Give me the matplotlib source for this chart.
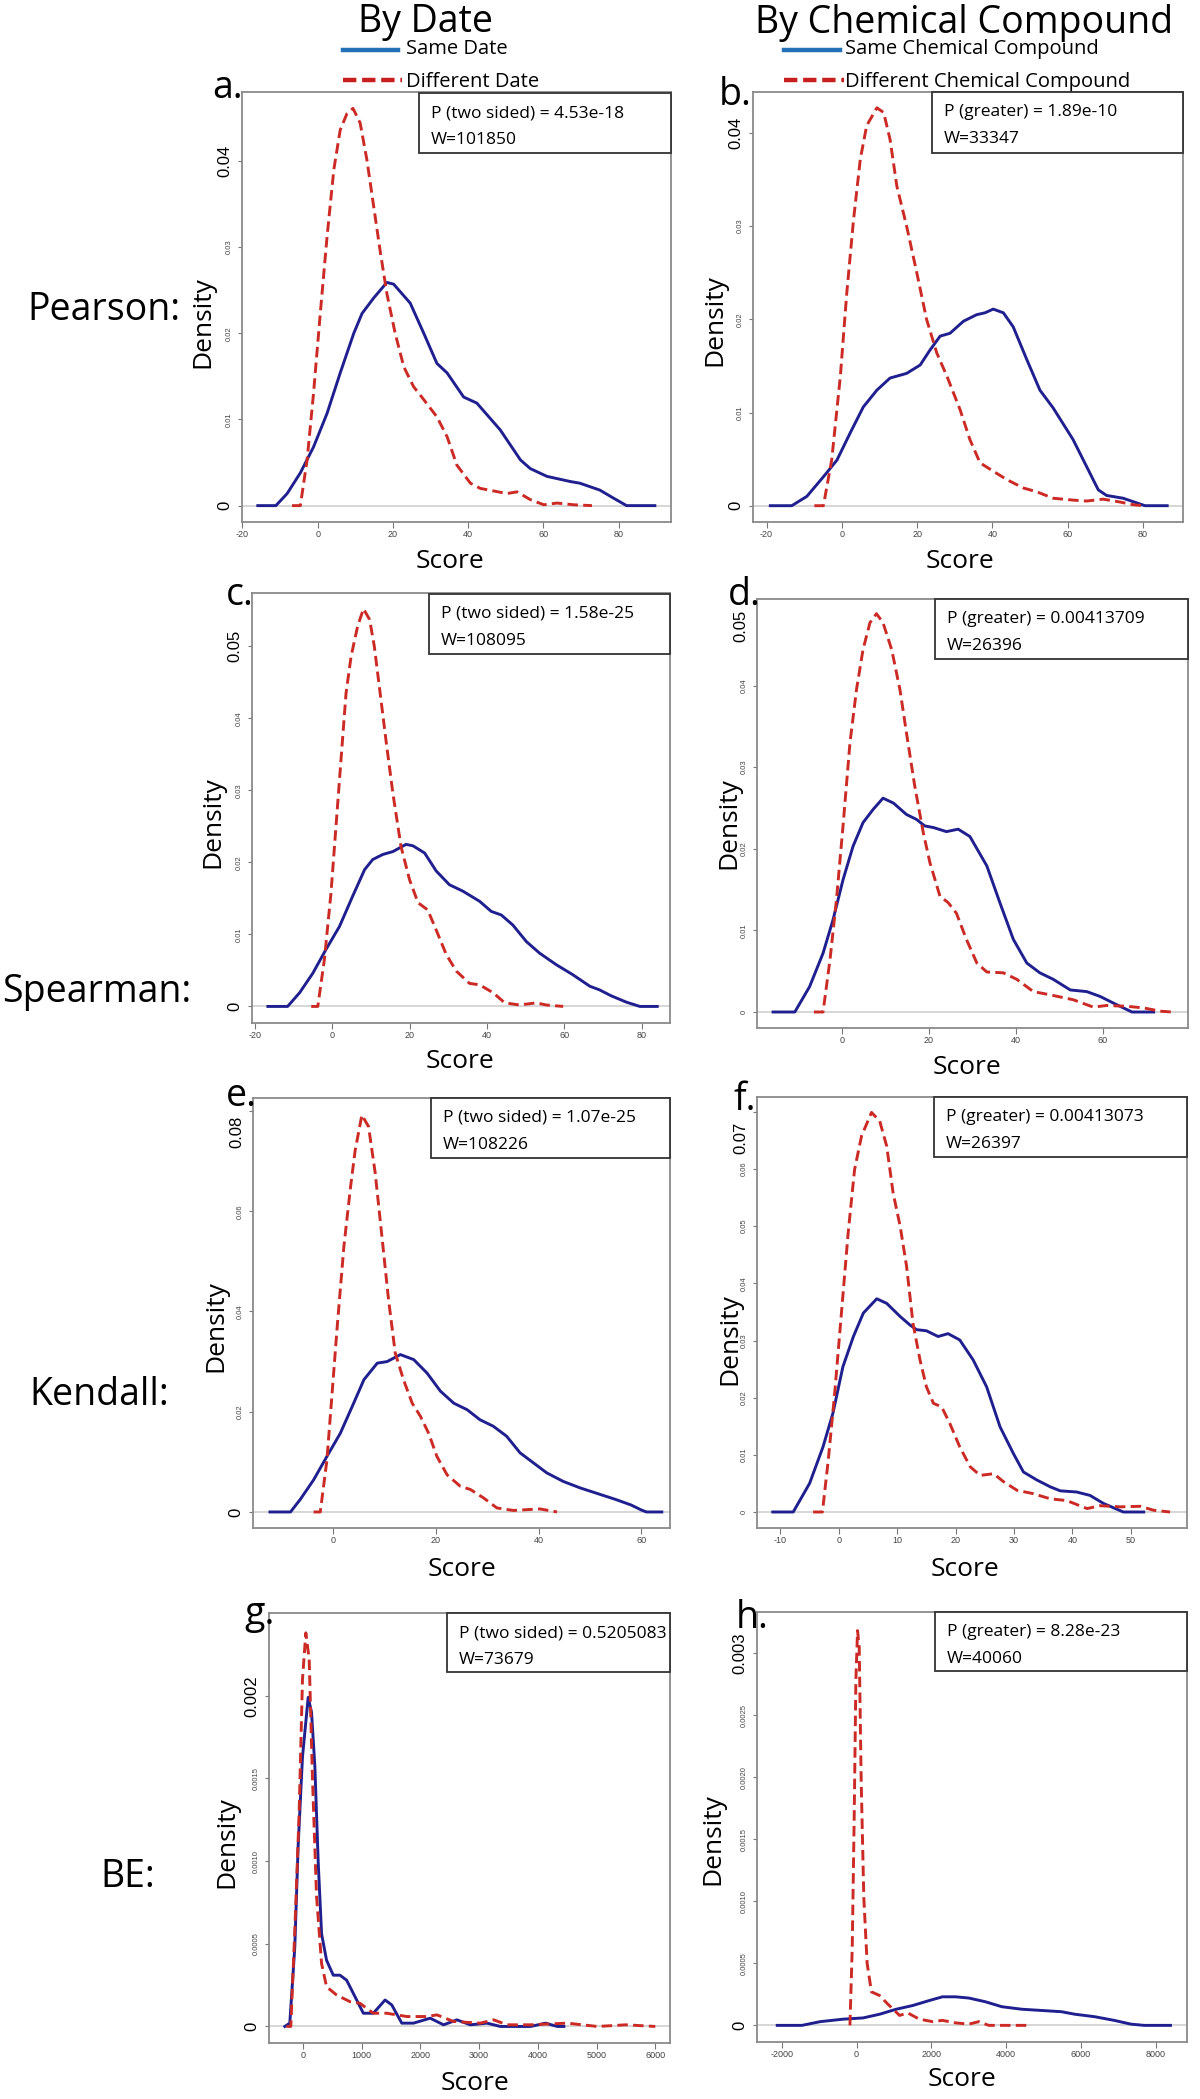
import matplotlib
matplotlib.use("Agg")
import matplotlib.pyplot as plt
from matplotlib.lines import Line2D
from matplotlib.patches import Rectangle

plt.rcParams['font.family'] = ['Open Sans', 'DejaVu Sans']

W, H = 1200, 2099

# ---- data (score, density) ----
# a. Pearson, by date
a_same_x = [-15.9, -11.1, -8.1, -4.6, -1.1, 2.5, 6.0, 9.6, 11.8, 14.9, 18.4, 20.2, 24.6, 28.2, 31.7, 34.4,
            38.8, 42.3, 48.5, 53.9, 56.5, 60.9, 67.1, 69.7, 75.0, 78.5, 82.1, 89.6]
a_same_y = [0, 0, 0.0014, 0.0038, 0.0068, 0.0107, 0.0154, 0.0200, 0.0223, 0.0241, 0.0259, 0.0257, 0.0235,
            0.0200, 0.0165, 0.0154, 0.0126, 0.0119, 0.0088, 0.0053, 0.0043, 0.0034, 0.0028, 0.0026, 0.0018,
            0.0009, 0, 0]
a_diff_x = [-6.8, -4.6, -2.8, -1.1, 0.7, 2.5, 4.3, 6.0, 7.8, 9.4, 11.3, 13.1, 14.9, 16.7, 18.4, 20.6, 22.9,
            25.5, 28.2, 31.7, 34.4, 37.0, 40.6, 43.2, 46.8, 50.3, 53.0, 56.5, 60.1, 63.6, 68.0, 72.9]
a_diff_y = [0, 0, 0.0053, 0.0130, 0.0223, 0.0312, 0.0390, 0.0436, 0.0455, 0.0461, 0.0444, 0.0401, 0.0347,
            0.0293, 0.0246, 0.0200, 0.0161, 0.0138, 0.0123, 0.0103, 0.0080, 0.0047, 0.0026, 0.0020, 0.0017,
            0.0014, 0.0016, 0.0007, 0.0001, 0.0003, 0.0001, 0]

# b. Pearson, by chemical compound
b_same_x = [-19.0, -13.3, -9.3, -4.9, -1.3, 2.2, 5.7, 9.3, 12.8, 17.2, 20.8, 23.4, 26.1, 28.7, 32.3, 35.8,
            38.0, 40.2, 42.9, 45.5, 49.1, 52.6, 56.1, 61.4, 65.0, 68.1, 70.3, 74.7, 80.5, 86.4]
b_same_y = [0, 0, 0.0010, 0.0031, 0.0049, 0.0078, 0.0106, 0.0124, 0.0137, 0.0142, 0.0151, 0.0167, 0.0182,
            0.0185, 0.0198, 0.0205, 0.0207, 0.0211, 0.0207, 0.0192, 0.0157, 0.0124, 0.0105, 0.0071, 0.0042,
            0.0017, 0.0011, 0.0008, 0, 0]
b_diff_x = [-7.3, -4.9, -2.7, -0.4, 1.3, 3.1, 4.9, 6.6, 9.3, 11.1, 12.8, 14.6, 17.2, 19.9, 22.5, 25.2, 27.9,
            31.4, 34.0, 36.7, 40.2, 43.8, 48.2, 51.7, 56.1, 61.4, 65.0, 69.4, 73.8, 77.4, 80.0]
b_diff_y = [0, 0, 0.0049, 0.0139, 0.0228, 0.0307, 0.0372, 0.0408, 0.0427, 0.0422, 0.0393, 0.0343, 0.0300,
            0.0250, 0.0200, 0.0164, 0.0139, 0.0103, 0.0071, 0.0046, 0.0037, 0.0028, 0.0019, 0.0015, 0.0008,
            0.0006, 0.0005, 0.0007, 0.0004, 0.0001, 0]

# c. Spearman, by date
c_same_x = [-16.6, -11.5, -8.4, -5.0, -1.6, 1.9, 5.3, 8.4, 10.5, 13.1, 15.7, 19.1, 20.9, 23.9, 26.9, 30.3,
            33.8, 38.1, 41.1, 43.7, 46.7, 50.2, 53.6, 57.9, 62.2, 66.6, 69.1, 72.0, 76.0, 79.5, 84.0]
c_same_y = [0, 0, 0.0019, 0.0046, 0.0079, 0.0111, 0.0153, 0.0190, 0.0204, 0.0211, 0.0215, 0.0225, 0.0223,
            0.0213, 0.0188, 0.0169, 0.0160, 0.0146, 0.0132, 0.0127, 0.0113, 0.0090, 0.0074, 0.0058, 0.0044,
            0.0028, 0.0023, 0.0015, 0.0006, 0, 0]
c_diff_x = [-5.4, -3.7, -2.0, -0.3, 1.0, 2.3, 3.6, 4.9, 6.6, 8.1, 9.7, 10.9, 12.2, 14.0, 15.7, 17.8, 20.0,
            22.2, 24.7, 26.9, 29.5, 32.1, 35.5, 38.1, 41.6, 44.6, 48.4, 52.8, 55.3, 59.7]
c_diff_y = [0, 0, 0.0065, 0.0157, 0.0250, 0.0343, 0.0435, 0.0486, 0.0528, 0.0552, 0.0537, 0.0500, 0.0444,
            0.0366, 0.0296, 0.0222, 0.0176, 0.0144, 0.0134, 0.0106, 0.0072, 0.0049, 0.0032, 0.0030, 0.0019,
            0.0005, 0.0002, 0.0005, 0.0002, 0]

# d. Spearman, by chemical compound
d_same_x = [-15.9, -10.9, -7.5, -4.4, -2.1, 0.2, 2.5, 4.8, 7.1, 9.4, 11.8, 14.8, 17.1, 19.0, 21.0, 24.0,
            26.7, 29.4, 33.3, 36.3, 39.4, 42.5, 45.5, 48.6, 52.5, 56.3, 59.4, 62.4, 66.7, 71.7]
d_same_y = [0, 0, 0.0031, 0.0072, 0.0113, 0.0162, 0.0203, 0.0232, 0.0248, 0.0262, 0.0256, 0.0242, 0.0236,
            0.0228, 0.0226, 0.0221, 0.0224, 0.0215, 0.0179, 0.0134, 0.0089, 0.0060, 0.0048, 0.0040, 0.0027,
            0.0025, 0.0019, 0.0011, 0, 0]
d_diff_x = [-6.5, -4.4, -2.8, -1.3, 0.2, 1.8, 3.3, 4.8, 6.4, 7.9, 9.4, 11.4, 13.3, 14.8, 16.7, 18.7, 20.2,
            22.5, 24.4, 26.3, 28.6, 31.0, 33.3, 37.1, 40.2, 44.0, 47.9, 53.2, 57.8, 60.9, 65.5, 69.4, 73.2, 75.9]
d_diff_y = [0, 0, 0.0064, 0.0138, 0.0228, 0.0330, 0.0395, 0.0444, 0.0477, 0.0488, 0.0477, 0.0444, 0.0395,
            0.0342, 0.0277, 0.0219, 0.0183, 0.0142, 0.0134, 0.0121, 0.0089, 0.0060, 0.0049, 0.0048, 0.0040,
            0.0025, 0.0021, 0.0015, 0.0006, 0.0008, 0.0007, 0.0005, 0.0001, 0]

# e. Kendall, by date
e_same_x = [-12.3, -8.3, -6.4, -3.8, -1.2, 1.4, 4.0, 6.0, 8.6, 10.5, 13.1, 15.7, 18.3, 20.9, 23.5, 26.1,
            28.6, 31.2, 33.8, 36.4, 39.0, 41.6, 44.8, 48.1, 52.0, 55.0, 58.0, 60.0, 61.0, 64.0]
e_same_y = [0, 0, 0.0025, 0.0064, 0.0111, 0.0157, 0.0217, 0.0264, 0.0297, 0.0300, 0.0314, 0.0304, 0.0277,
            0.0241, 0.0217, 0.0204, 0.0184, 0.0171, 0.0151, 0.0118, 0.0098, 0.0078, 0.0061, 0.0048, 0.0035,
            0.0025, 0.0014, 0.0004, 0, 0]
e_diff_x = [-3.8, -2.5, -1.2, -0.2, 0.8, 2.1, 3.4, 4.3, 5.6, 6.9, 8.2, 9.5, 10.8, 12.1, 13.7, 15.4, 17.0,
            18.6, 20.2, 22.2, 24.8, 26.7, 29.3, 31.9, 35.1, 38.4, 40.3, 43.6]
e_diff_y = [0, 0, 0.0104, 0.0237, 0.0370, 0.0530, 0.0649, 0.0722, 0.0792, 0.0769, 0.0676, 0.0550, 0.0423,
            0.0317, 0.0264, 0.0217, 0.0191, 0.0157, 0.0111, 0.0074, 0.0051, 0.0045, 0.0028, 0.0008, 0.0003,
            0.0005, 0.0006, 0]

# f. Kendall, by chemical compound
f_same_x = [-11.3, -7.8, -5.0, -2.7, -1.0, 0.7, 2.5, 4.2, 6.5, 8.2, 10.5, 12.2, 13.3, 15.0, 17.0, 18.7,
            20.7, 23.0, 25.3, 27.6, 29.9, 31.6, 33.9, 36.2, 37.9, 40.7, 43.0, 45.3, 48.7, 52.2]
f_same_y = [0, 0, 0.0050, 0.0114, 0.0173, 0.0254, 0.0307, 0.0348, 0.0373, 0.0365, 0.0342, 0.0327, 0.0319,
            0.0317, 0.0307, 0.0312, 0.0301, 0.0266, 0.0219, 0.0149, 0.0102, 0.0070, 0.0056, 0.0044, 0.0037,
            0.0035, 0.0029, 0.0015, 0, 0]
f_diff_x = [-4.4, -2.8, -1.8, -0.7, 0.5, 1.6, 2.7, 3.9, 5.6, 7.0, 8.2, 9.3, 10.5, 11.6, 12.7, 13.9, 15.0,
            16.2, 17.6, 19.0, 20.7, 22.5, 24.2, 26.5, 28.2, 30.5, 33.3, 36.2, 39.0, 42.5, 44.7, 48.2, 51.6,
            53.9, 56.7]
f_diff_y = [0, 0, 0.0091, 0.0208, 0.0354, 0.0488, 0.0599, 0.0658, 0.0699, 0.0684, 0.0640, 0.0558, 0.0500,
            0.0430, 0.0330, 0.0266, 0.0219, 0.0190, 0.0184, 0.0155, 0.0114, 0.0079, 0.0064, 0.0067, 0.0053,
            0.0038, 0.0032, 0.0023, 0.0020, 0.0006, 0.0011, 0.0009, 0.0010, 0.0003, 0]

# g. BE, by date
g_same_x = [-307, -222, -137, -80, -6, 91, 148, 205, 262, 319, 404, 518, 632, 745, 888, 1030, 1200, 1400,
            1514, 1684, 1883, 2168, 2395, 2623, 2851, 3135, 3363, 3875, 4131, 4330, 4444]
g_same_y = [0, 0.00002, 0.00048, 0.00109, 0.00163, 0.00199, 0.00190, 0.00157, 0.00099, 0.00056, 0.00040,
            0.00031, 0.00031, 0.00028, 0.00018, 0.00008, 0.00008, 0.00016, 0.00013, 0.00002, 0.00002, 0.00005,
            0.00001, 0.00004, 0.00001, 0.00002, 0, 0, 0.00002, 0, 0]
g_diff_x = [-279, -205, -137, -63, -6, 51, 108, 165, 233, 319, 404, 575, 802, 973, 1200, 1428, 1770, 2111,
            2282, 2566, 3021, 3249, 3477, 3875, 4501, 5013, 5500, 6000]
g_diff_y = [0, 0, 0.00058, 0.00129, 0.00210, 0.00238, 0.00222, 0.00149, 0.00079, 0.00038, 0.00024, 0.00019,
            0.00015, 0.00014, 0.00008, 0.00008, 0.00006, 0.00006, 0.00007, 0.00003, 0.00002, 0.00004, 0.00001,
            0.00001, 0.00002, 0, 0.00001, 0]

# h. BE, by chemical compound
h_same_x = [-2122, -1459, -972, -354, 177, 619, 1061, 1503, 1945, 2298, 2652, 3006, 3448, 3890, 4420, 4950,
            5481, 5834, 6365, 6895, 7337, 7691, 8398]
h_same_y = [0, 0, 0.00003, 0.00005, 0.00006, 0.00009, 0.00013, 0.00016, 0.00020, 0.00023, 0.00023, 0.00022,
            0.00019, 0.00015, 0.00013, 0.00012, 0.00011, 0.00009, 0.00007, 0.00004, 0.00001, 0, 0]
h_diff_x = [-177, -115, -62, -18, 27, 71, 124, 194, 283, 398, 619, 840, 1017, 1149, 1370, 1680, 2033, 2298,
            2652, 3006, 3271, 3536, 4066, 4553]
h_diff_y = [0, 0.00063, 0.00170, 0.00278, 0.00318, 0.00305, 0.00197, 0.00103, 0.00050, 0.00027, 0.00024,
            0.00017, 0.00012, 0.00008, 0.00010, 0.00005, 0.00003, 0.00004, 0.00002, 0.00001, 0.00003, 0, 0, 0]

# axis ticks
xticks_pearson = [-20, 0, 20, 40, 60, 80]
xticks_d = [0, 20, 40, 60]
xticks_e = [0, 20, 40, 60]
xticks_f = [-10, 0, 10, 20, 30, 40, 50]
xticks_g = [0, 1000, 2000, 3000, 4000, 5000, 6000]
xticks_h = [-2000, 0, 2000, 4000, 6000, 8000]

yticks_ab = [0, 0.01, 0.02, 0.03, 0.04]
yticklabels_ab = ["0", "0.01", "0.02", "0.03", "0.04"]
yticks_cd = [0, 0.01, 0.02, 0.03, 0.04, 0.05]
yticklabels_cd = ["0", "0.01", "0.02", "0.03", "0.04", "0.05"]
yticks_e = [0, 0.02, 0.04, 0.06, 0.08]
yticklabels_e = ["0", "0.02", "0.04", "0.06", "0.08"]
yticks_f = [0, 0.01, 0.02, 0.03, 0.04, 0.05, 0.06, 0.07]
yticklabels_f = ["0", "0.01", "0.02", "0.03", "0.04", "0.05", "0.06", "0.07"]
yticks_g = [0, 0.0005, 0.0010, 0.0015, 0.002]
yticklabels_g = ["0", "0.0005", "0.0010", "0.0015", "0.002"]
yticks_h = [0, 0.0005, 0.0010, 0.0015, 0.0020, 0.0025, 0.003]
yticklabels_h = ["0", "0.0005", "0.0010", "0.0015", "0.0020", "0.0025", "0.003"]

stats_a = ["P (two sided) = 4.53e-18", "W=101850"]
stats_b = ["P (greater) = 1.89e-10", "W=33347"]
stats_c = ["P (two sided) = 1.58e-25", "W=108095"]
stats_d = ["P (greater) = 0.00413709", "W=26396"]
stats_e = ["P (two sided) = 1.07e-25", "W=108226"]
stats_f = ["P (greater) = 0.00413073", "W=26397"]
stats_g = ["P (two sided) = 0.5205083", "W=73679"]
stats_h = ["P (greater) = 8.28e-23", "W=40060"]

row_labels = ["Pearson:", "Spearman:", "Kendall:", "BE:"]
col_titles = ["By Date", "By Chemical Compound"]
legend_date = ["Same Date", "Different Date"]
legend_chem = ["Same Chemical Compound", "Different Chemical Compound"]

SAME_COLOR = "#1f1f8f"
DIFF_COLOR = "#cc2a24"


def fx(x):
    return x / W


def fy(y):
    return 1 - y / H


def draw_panel(fig, box, sx, sy, dx, dy, xlim, ylim, xticks, yticks, ylabels, big,
               letter, letter_xy, stats, stats_box, dens_xy, score_xy, top_drop=0):
    l, t, r, b = box
    ax = fig.add_axes([fx(l), fy(b), (r - l) / W, (b - t) / H])
    ax.axhline(0, color="#d0d0d0", lw=1.2, zorder=1)
    ax.plot(sx, sy, color=SAME_COLOR, lw=2.1, zorder=3)
    ax.plot(dx, dy, color=DIFF_COLOR, lw=2.1, dashes=(3.6, 1.8), zorder=4)
    ax.set_xlim(*xlim)
    ax.set_ylim(*ylim)

    for sp in ax.spines.values():
        sp.set_color("#8a8a8a")
        sp.set_linewidth(1.3)

    ax.set_xticks(xticks)
    ax.set_xticklabels([str(v) for v in xticks])
    ax.tick_params(axis="x", labelsize=6.5, labelcolor="#444444", color="#777777",
                   length=4, pad=2)

    # top label is pushed below the panel letter in some panels
    labels = list(ylabels)
    if top_drop:
        labels[-1] = ""
        ax.annotate(ylabels[-1], xy=(0, yticks[-1]), xycoords=ax.get_yaxis_transform(),
                    xytext=(-9, -top_drop), textcoords="offset pixels", rotation=90,
                    ha="right", va="top", fontsize=12, family=["Liberation Sans"],
                    annotation_clip=False)
    ax.set_yticks(yticks)
    ax.set_yticklabels(labels)
    ax.tick_params(axis="y", labelsize=5.5, labelcolor="#444444", color="#777777",
                   length=3, pad=4)
    for i, lab in enumerate(ax.get_yticklabels()):
        lab.set_rotation(90)
        lab.set_va("center")
        lab.set_ha("right")
        lab.set_family(["Liberation Sans"])
        if i in big:
            lab.set_fontsize(12)
            lab.set_color("black")
    for lab in ax.get_xticklabels():
        lab.set_family(["Liberation Sans"])

    # panel letter
    fig.text(fx(letter_xy[0]), fy(letter_xy[1]), letter, fontsize=27, va="baseline", ha="left")

    # statistics box
    bl, bt, br, bb = stats_box
    fig.patches.append(Rectangle((fx(bl), fy(bb)), (br - bl) / W, (bb - bt) / H,
                                 transform=fig.transFigure, facecolor="white",
                                 edgecolor="#333333", lw=1.3, zorder=5))
    fig.text(fx(bl + 12), fy(bt + 20), stats[0], fontsize=12.5, va="center", ha="left", zorder=6)
    fig.text(fx(bl + 12), fy(bt + 47), stats[1], fontsize=12.5, va="center", ha="left", zorder=6)

    # axis titles
    fig.text(fx(dens_xy[0]), fy(dens_xy[1]), "Density", fontsize=19, rotation=90,
             va="center", ha="center")
    fig.text(fx(score_xy[0]), fy(score_xy[1]), "Score", fontsize=19, va="center", ha="center")
    return ax


fig = plt.figure(figsize=(W / 100, H / 100), dpi=100)

draw_panel(fig, (242, 92, 671, 522), a_same_x, a_same_y, a_diff_x, a_diff_y,
           (-20.1, 93.9), (-0.0019, 0.048), xticks_pearson, yticks_ab, yticklabels_ab, [0, 4],
           "a.", (212, 98), stats_a, (419, 93, 671, 153), (203, 322), (450, 561))
draw_panel(fig, (753, 92, 1183, 522), b_same_x, b_same_y, b_diff_x, b_diff_y,
           (-23.6, 90.6), (-0.00175, 0.0444), xticks_pearson, yticks_ab, yticklabels_ab, [0, 4],
           "b.", (719, 105), stats_b, (932, 92, 1183, 153), (715, 320), (960, 561))
draw_panel(fig, (252, 593, 670, 1023), c_same_x, c_same_y, c_diff_x, c_diff_y,
           (-20.7, 87.3), (-0.0023, 0.0574), xticks_pearson, yticks_cd, yticklabels_cd, [0, 5],
           "c.", (226, 605), stats_c, (429, 594, 670, 654), (213, 822), (460, 1062))
draw_panel(fig, (757, 599, 1188, 1028), d_same_x, d_same_y, d_diff_x, d_diff_y,
           (-19.6, 79.6), (-0.00196, 0.0506), xticks_d, yticks_cd, yticklabels_cd, [],
           "d.", (728, 605), stats_d, (935, 599, 1188, 659), (729, 823), (967, 1067), top_drop=6)
draw_panel(fig, (253, 1098, 670, 1528), e_same_x, e_same_y, e_diff_x, e_diff_y,
           (-15.6, 65.6), (-0.0032, 0.0826), xticks_e, yticks_e, yticklabels_e, [0],
           "e.", (226, 1106), stats_e, (431, 1098, 670, 1158), (216, 1326), (462, 1570), top_drop=5)
draw_panel(fig, (757, 1097, 1187, 1528), f_same_x, f_same_y, f_diff_x, f_diff_y,
           (-14.0, 59.6), (-0.0028, 0.0726), xticks_f, yticks_f, yticklabels_f, [],
           "f.", (733, 1110), stats_f, (934, 1097, 1187, 1157), (730, 1339), (965, 1570), top_drop=10)
draw_panel(fig, (269, 1613, 670, 2043), g_same_x, g_same_y, g_diff_x, g_diff_y,
           (-576, 6250), (-0.0001, 0.0025), xticks_g, yticks_g, yticklabels_g, [0, 4],
           "g.", (244, 1624), stats_g, (447, 1613, 670, 1672), (227, 1842), (475, 2083))
draw_panel(fig, (757, 1612, 1187, 2042), h_same_x, h_same_y, h_diff_x, h_diff_y,
           (-2663, 8840), (-0.000134, 0.00333), xticks_h, yticks_h, yticklabels_h, [0, 6],
           "h.", (736, 1628), stats_h, (935, 1612, 1187, 1671), (713, 1839), (962, 2080))

# column titles and legends
fig.text(fx(425), fy(32), col_titles[0], fontsize=27, ha="center", va="baseline")
fig.text(fx(964), fy(33), col_titles[1], fontsize=27, ha="center", va="baseline")

for x0, x1, tx, labels in [(343, 398, 406, legend_date), (784, 840, 845, legend_chem)]:
    fig.lines.append(Line2D([fx(x0), fx(x1)], [fy(50), fy(50)], transform=fig.transFigure,
                            color="#2270b5", lw=3.2))
    fig.lines.append(Line2D([fx(x0), fx(x1 + 4)], [fy(80), fy(80)], transform=fig.transFigure,
                            color="#c81e1e", lw=3.2, dashes=(3.0, 1.3)))
    fig.text(fx(tx), fy(49), labels[0], fontsize=14.5, ha="left", va="center")
    fig.text(fx(tx), fy(82), labels[1], fontsize=14.5, ha="left", va="center")

# row labels
for label, x, y in zip(row_labels, [27, 2, 29, 100], [320, 1002, 1405, 1887]):
    fig.text(fx(x), fy(y), label, fontsize=27, ha="left", va="baseline")

fig.savefig("out.png", dpi=100)
